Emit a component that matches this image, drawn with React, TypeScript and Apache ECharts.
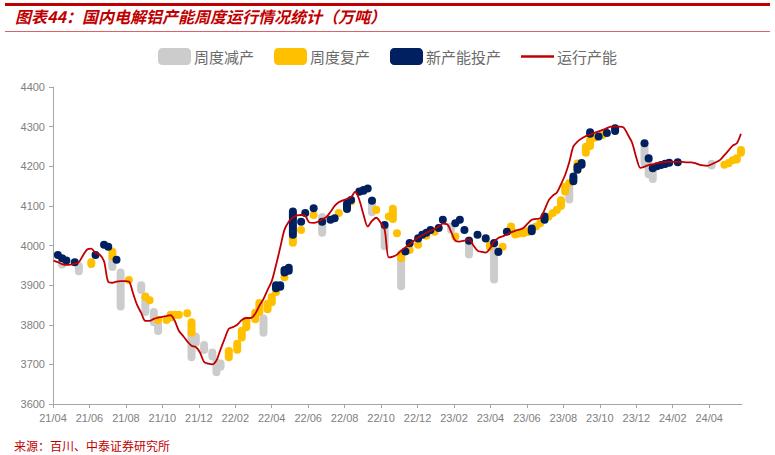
import React, { useEffect, useRef } from 'react';
import * as echarts from 'echarts';

// Weekly series starting 2021-04-02, one value per week (万吨)
const capacity: number[] = [
  3962, 3958, 3953, 3951, 3952, 3954, 3958, 3975, 3990, 3992,
  3981, 3977, 3960, 3908, 3906, 3909, 3910, 3910, 3909, 3880,
  3850, 3830, 3810, 3810, 3815, 3818, 3820, 3822, 3824, 3810,
  3785, 3772, 3758, 3747, 3744, 3730, 3706, 3702, 3700, 3710,
  3738, 3765, 3790, 3794, 3800, 3812, 3817, 3817, 3828, 3848,
  3865, 3888, 3910, 3950, 3995, 4040, 4060, 4071, 4076, 4077,
  4075, 4058, 4057, 4060, 4066, 4072, 4085, 4100, 4109, 4114,
  4118, 4122, 4136, 4115, 4078, 4048, 4062, 4070, 4058, 4040,
  3970, 3972, 3977, 3987, 3995, 4003, 4012, 4020, 4026, 4032,
  4037, 4042, 4048, 4055, 4054, 4035, 4012, 4010, 4012, 4016,
  4000, 3987, 3984, 3982, 3992, 4010, 4019, 4023, 4028, 4033,
  4037, 4040, 4044, 4055, 4065, 4067, 4069, 4090, 4114, 4126,
  4134, 4155, 4178, 4210, 4250, 4262, 4270, 4276, 4280, 4284,
  4288, 4292, 4296, 4300, 4300, 4300, 4298, 4280, 4260, 4222,
  4196, 4199, 4203, 4205, 4207, 4209, 4211, 4211, 4211, 4211,
  4211, 4210, 4210, 4208, 4204, 4202, 4201, 4205, 4210, 4216,
  4228, 4240, 4252, 4258, 4282,
];

// [week index, low, high]
const cutSegs: [number, number, number][] = [
  [2, 3952, 3965], [6, 3935, 3948], [14, 3946, 3966], [16, 3846, 3932],
  [21, 3888, 3900], [22, 3832, 3868], [24, 3806, 3832], [25, 3784, 3800],
  [33, 3718, 3780], [34, 3755, 3770], [36, 3736, 3749], [38, 3720, 3730],
  [39, 3680, 3705], [40, 3694, 3702], [50, 3780, 3816], [64, 4032, 4072],
  [76, 4084, 4114], [79, 3998, 4043], [83, 3897, 3980], [95, 4040, 4048],
  [99, 3977, 4013], [105, 3914, 3988], [123, 4116, 4148], [141, 4208, 4256],
  [142, 4180, 4220], [143, 4168, 4195], [157, 4202, 4206],
];

const restartSegs: [number, number, number][] = [
  [9, 3953, 3958], [14, 3972, 3984], [18, 3913, 3913], [22, 3871, 3871],
  [23, 3862, 3862], [25, 3812, 3812], [27, 3812, 3812], [28, 3818, 3825],
  [29, 3825, 3825], [30, 3825, 3825], [32, 3829, 3829], [33, 3780, 3806],
  [42, 3718, 3734], [44, 3737, 3752], [45, 3768, 3785], [46, 3794, 3810],
  [48, 3814, 3830], [49, 3832, 3855], [51, 3839, 3853], [52, 3857, 3870],
  [53, 3883, 3883], [55, 3920, 3920], [57, 4007, 4022], [59, 4039, 4039],
  [62, 4077, 4077], [68, 4082, 4082], [71, 4111, 4111], [77, 4090, 4090],
  [80, 4073, 4073], [81, 4067, 4093], [82, 4031, 4031], [83, 3968, 3976],
  [85, 3989, 3989], [87, 4002, 4002], [89, 4025, 4025], [91, 4035, 4035],
  [96, 4023, 4023], [104, 3997, 4001], [107, 3997, 3997], [109, 4039, 4048],
  [110, 4028, 4032], [111, 4030, 4032], [112, 4031, 4033], [113, 4034, 4036],
  [115, 4048, 4048], [116, 4056, 4056], [118, 4073, 4073], [119, 4082, 4082],
  [120, 4090, 4090], [121, 4100, 4114], [122, 4136, 4148], [123, 4158, 4158],
  [125, 4192, 4207], [127, 4234, 4249], [128, 4251, 4266], [129, 4272, 4272],
  [131, 4279, 4279], [160, 4204, 4204], [161, 4208, 4208], [162, 4215, 4215],
  [163, 4217, 4220], [164, 4234, 4241],
];

const newSegs: [number, number, number][] = [
  [1, 3976, 3976], [2, 3968, 3968], [3, 3962, 3962], [5, 3958, 3958],
  [10, 3976, 3976], [12, 4002, 4002], [13, 3997, 3997], [15, 3964, 3964],
  [53, 3892, 3900], [54, 3896, 3900], [55, 3932, 3938], [56, 3936, 3944],
  [57, 4027, 4086], [59, 4060, 4060], [60, 4082, 4082], [62, 4094, 4094],
  [64, 4060, 4060], [66, 4065, 4065], [67, 4069, 4069], [70, 4092, 4106],
  [71, 4115, 4115], [73, 4136, 4136], [74, 4138, 4140], [75, 4144, 4144],
  [76, 4113, 4113], [79, 4052, 4052], [84, 3985, 3985], [85, 4006, 4006],
  [87, 4018, 4018], [88, 4027, 4027], [89, 4032, 4032], [90, 4039, 4039],
  [92, 4044, 4044], [93, 4065, 4065], [96, 4056, 4056], [97, 4065, 4065],
  [98, 4039, 4039], [99, 4012, 4012], [101, 4027, 4027], [103, 4018, 4018],
  [105, 4006, 4006], [106, 3984, 3984], [108, 4035, 4035], [114, 4036, 4043],
  [117, 4065, 4073], [124, 4162, 4174], [125, 4191, 4199], [126, 4204, 4208],
  [128, 4282, 4286], [130, 4275, 4275], [132, 4284, 4284], [134, 4289, 4296],
  [141, 4258, 4258], [142, 4220, 4220], [143, 4195, 4195], [144, 4200, 4200],
  [145, 4203, 4203], [146, 4206, 4206], [147, 4209, 4209], [149, 4210, 4210],
];

const xTickLabels = [
  '21/04', '21/06', '21/08', '21/10', '21/12', '22/02', '22/04', '22/06', '22/08', '22/10',
  '22/12', '23/02', '23/04', '23/06', '23/08', '23/10', '23/12', '24/02', '24/04',
];

const seriesNames = ['周度减产', '周度复产', '新产能投产', '运行产能'];
const COLORS = { cut: '#cccccc', restart: '#ffc000', fresh: '#002060', line: '#c00000' };

// months elapsed since 2021-04-01 for week index w (weeks start 2021-04-02)
function weekToMonth(w: number): number {
  const d = new Date(Date.UTC(2021, 3, 2) + w * 7 * 86400000);
  const y = d.getUTCFullYear();
  const m = d.getUTCMonth();
  const dim = new Date(Date.UTC(y, m + 1, 0)).getUTCDate();
  return (y - 2021) * 12 + (m - 3) + (d.getUTCDate() - 1) / dim;
}

function segSeries(name: string, segs: [number, number, number][], color: string) {
  return {
    name,
    type: 'custom',
    itemStyle: { color },
    encode: { x: 0, y: [1, 2] },
    data: segs.map(([w, lo, hi]) => [weekToMonth(w), lo, hi]),
    renderItem: (params: any, api: any) => {
      const x = api.value(0);
      const lo = api.value(1);
      const hi = api.value(2);
      const p1 = api.coord([x, hi]);
      const p2 = api.coord([x, lo]);
      const y1 = p1[1];
      let y2 = p2[1];
      if (Math.abs(y2 - y1) < 0.05) y2 = y1 + 0.05;
      return {
        type: 'line',
        shape: { x1: p1[0], y1, x2: p2[0], y2 },
        style: { stroke: color, lineWidth: 8, lineCap: 'round', fill: null },
      };
    },
  };
}

export default function App() {
  const ref = useRef<HTMLDivElement>(null);
  useEffect(() => {
    if (!ref.current) return;
    const chart = echarts.init(ref.current, undefined, { renderer: 'svg' });
    const tickVals = xTickLabels.map((_, i) => i * 2);
    const axisGray = '#a6a6a6';
    const labelGray = '#808080';
    chart.setOption({
      animation: false,
      backgroundColor: '#ffffff',
      textStyle: { fontFamily: '"Liberation Sans", Arial, sans-serif' },
      grid: { left: 53, right: 33, top: 87, bottom: 51, containLabel: false },
      legend: {
        top: 43,
        left: 'center',
        itemWidth: 33,
        itemHeight: 17,
        itemGap: 20,
        textStyle: { color: '#6b6b6b', fontSize: 15, fontFamily: '"Noto Sans CJK SC", sans-serif', padding: [0, 0, 0, -2] },
        data: [
          { name: seriesNames[0], icon: 'roundRect' },
          { name: seriesNames[1], icon: 'roundRect' },
          { name: seriesNames[2], icon: 'roundRect' },
          { name: seriesNames[3], icon: 'path://M0,0L30,0L30,2.2L0,2.2Z', itemStyle: { color: COLORS.line } },
        ],
      },
      xAxis: {
        type: 'value',
        min: 0,
        max: 37.8,
        interval: 2,
        splitLine: { show: false },
        axisLine: { show: true, lineStyle: { color: axisGray } },
        axisTick: { show: true, length: 4, lineStyle: { color: axisGray }, customValues: tickVals },
        axisLabel: {
          color: labelGray,
          fontSize: 11,
          margin: 8,
          customValues: tickVals,
          formatter: (v: number) => xTickLabels[Math.round(v / 2)] ?? '',
        },
      },
      yAxis: {
        type: 'value',
        min: 3600,
        max: 4400,
        interval: 100,
        splitLine: { show: false },
        axisLine: { show: true, lineStyle: { color: axisGray } },
        axisTick: { show: true, length: 4, lineStyle: { color: axisGray } },
        axisLabel: { color: labelGray, fontSize: 11, margin: 8, formatter: (v: number) => String(v) },
      },
      graphic: [
        { type: 'rect', shape: { x: 5, y: 3, width: 765, height: 3 }, style: { fill: '#c00000' } },
        {
          type: 'text',
          x: 15,
          y: 8,
          style: {
            text: '图表44：国内电解铝产能周度运行情况统计（万吨）',
            fill: '#c00000',
            fontSize: 16,
            fontWeight: 'bold',
            fontStyle: 'italic',
            fontFamily: '"Noto Sans CJK SC", sans-serif',
          },
        },
        { type: 'line', shape: { x1: 5, y1: 31.5, x2: 770, y2: 31.5 }, style: { stroke: '#d9646a', lineWidth: 1 } },
        {
          type: 'text',
          x: 14,
          y: 439,
          style: {
            text: '来源：百川、中泰证券研究所',
            fill: '#c00000',
            fontSize: 12,
            fontFamily: '"Noto Sans CJK SC", sans-serif',
          },
        },
      ],
      series: [
        segSeries(seriesNames[0], cutSegs, COLORS.cut),
        segSeries(seriesNames[1], restartSegs, COLORS.restart),
        segSeries(seriesNames[2], newSegs, COLORS.fresh),
        {
          name: seriesNames[3],
          type: 'line',
          smooth: 0.3,
          symbol: 'none',
          itemStyle: { color: COLORS.line },
          lineStyle: { color: COLORS.line, width: 1.8 },
          data: capacity.map((v, i) => [weekToMonth(i), v]),
          z: 5,
        },
      ],
    });
    return () => chart.dispose();
  }, []);
  return <div ref={ref} style={{ position: 'absolute', left: 0, top: 0, width: 775, height: 455 }} />;
}
